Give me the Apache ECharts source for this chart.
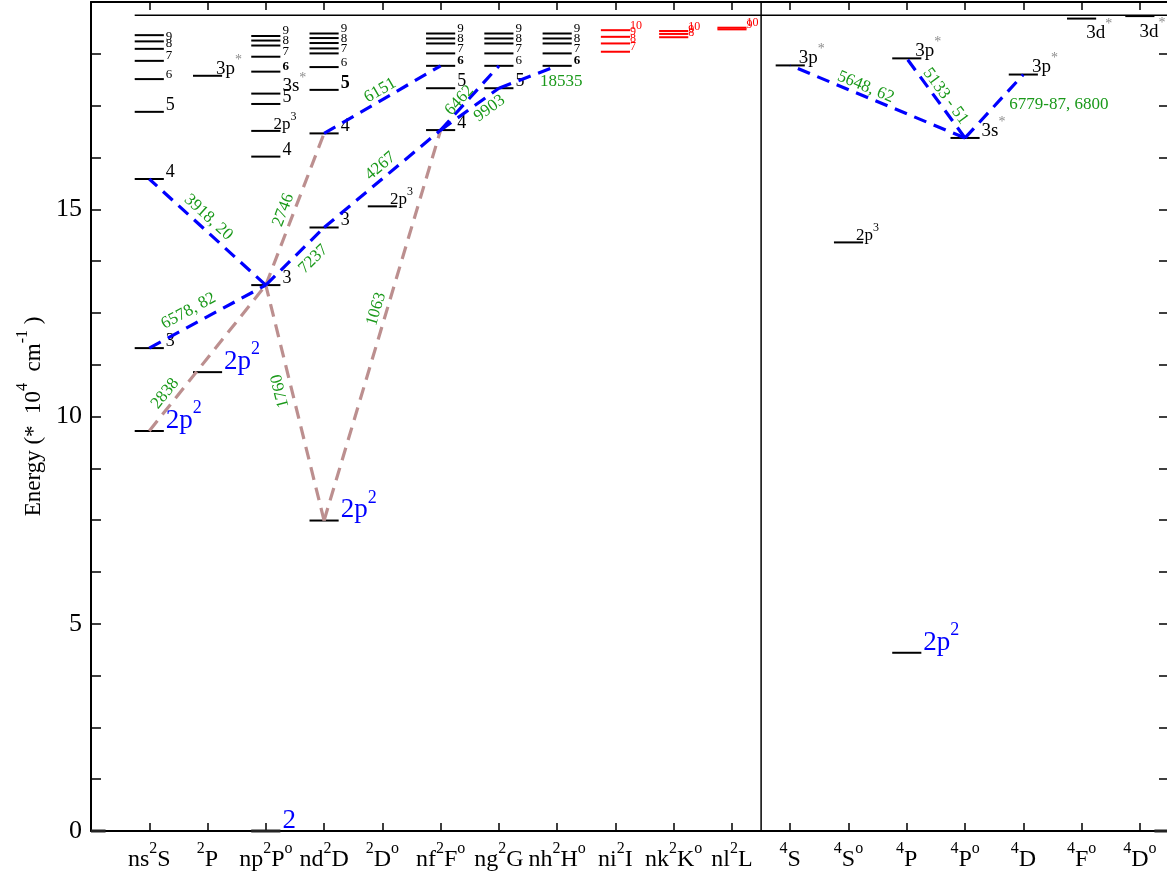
<!DOCTYPE html>
<html>
<head>
<meta charset="utf-8">
<script src="https://cdn.jsdelivr.net/npm/echarts@6/dist/echarts.min.js"></script>
<style>html,body{margin:0;padding:0;background:#fff}#chart{width:1167px;height:875px}</style>
</head>
<body>
<div id="chart"></div>
<script>
// ---------------- DATA ----------------
// column (term) labels, '^' marks a superscript character
const columnLabels = ['ns^2S','^2P','np^2P^o','nd^2D','^2D^o','nf^2F^o','ng^2G','nh^2H^o','ni^2I','nk^2K^o','nl^2L',
                      '^4S','^4S^o','^4P','^4P^o','^4D','^4F^o','^4D^o'];
const doubletColumnCount = 11;           // doublet terms, then quartets
const ionizationLimit = 19.68;           // 10^4 cm^-1
const energyMax = 20;

// levels: [column, energy (10^4 cm^-1), label]
const rydbergLevels = [
  [1,19.20,''],[1,19.05,'9'],[1,18.87,'8'],[1,18.58,'7'],[1,18.14,'6'],[1,17.35,'5'],[1,15.73,'4'],[1,11.65,'3'],
  [3,19.18,'9'],[3,19.07,''],[3,18.95,'8'],[3,18.68,'7'],[3,18.32,'6'],[3,17.54,'5'],[3,16.27,'4'],[3,13.17,'3'],
  [4,19.24,'9'],[4,19.13,''],[4,19.01,'8'],[4,18.88,''],[4,18.76,'7'],[4,18.43,'6'],[4,17.88,'5'],[4,16.83,'4'],[4,14.56,'3'],
  [6,19.24,'9'],[6,19.12,''],[6,19.00,'8'],[6,18.76,'7'],[6,18.46,'6'],[6,17.92,'5'],[6,16.91,'4'],
  [7,19.24,'9'],[7,19.12,''],[7,19.00,'8'],[7,18.76,'7'],[7,18.46,'6'],[7,17.92,'5'],
  [8,19.24,'9'],[8,19.12,''],[8,19.00,'8'],[8,18.76,'7'],[8,18.46,'6']
];
const highLLevels = [
  [9,19.32,'10'],[9,19.16,'9'],[9,19.00,'8'],[9,18.80,'7'],
  [10,19.30,'10'],[10,19.23,'9'],[10,19.15,'8'],
  [11,19.38,'10'],[11,19.34,'9']
];
const valenceLevels = [
  [1,9.65,'2p^2'],[2,11.07,'2p^2'],[4,7.49,'2p^2'],[14,4.30,'2p^2'],
  [3,16.89,'2p^3'],[5,15.07,'2p^3'],[13,14.20,'2p^3']
];
const coreExcitedLevels = [
  [2,18.22,'3p^*'],[3,17.79,'3s^*'],[12,18.47,'3p^*'],[14,18.64,'3p^*'],
  [15,16.72,'3s^*'],[16,18.25,'3p^*'],[17,19.60,'3d^*'],[18,19.66,'3d^*']
];
const groundLevels = [[3,0,'2'],[0,0,''],[18.5,0,'']];

// transitions: [from column, from energy, to column, to energy, wavelength (Å)]
const allowedTransitions = [
  [3,13.17,1,15.73,'3918, 20'],
  [1,11.65,3,13.17,'6578, 82'],
  [3,13.17,4,14.56,'7237'],
  [4,14.56,6,16.91,'4267'],
  [4,16.83,6,18.46,'6151'],
  [6,16.91,7,18.46,'6462'],
  [6,16.91,7,17.92,'9903'],
  [7,17.92,8,18.46,'18535'],
  [15,16.72,12,18.47,'5648, 62'],
  [15,16.72,14,18.64,'5133 - 51'],
  [15,16.72,16,18.25,'6779-87, 6800']
];
const otherTransitions = [
  [1,9.65,3,13.17,'2838'],
  [4,7.49,3,13.17,'1760'],
  [3,13.17,4,16.83,'2746'],
  [4,7.49,6,16.91,'1063']
];

// ---------------- LAYOUT / STYLE ----------------
const SERIF = "'Liberation Serif','DejaVu Serif','Times New Roman',serif";
const HALF = 0.25, X_MAX = 18.5;
const BLUE = '#0000ff', BROWN = '#bc8f8f', GREEN = '#1a991a', RED = '#ff0000', GRAY = '#8c8c8c';
const boldLabels = ['3:6','4:5','6:6','8:6'];
const labelNudge = {'17:3d^*':[-10,24], '18:3d^*':[-15,25]};
// label placement along transition: fraction t from first level, perpendicular offset px
const transitionLabelLayout = {
  '3918, 20':{t:0.559,perp:11.5}, '6578, 82':{t:0.394,perp:14}, '7237':{t:0.635,perp:-15},
  '4267':{t:0.544,perp:11}, '6151':{t:0.52,perp:9}, '6462':{t:0.40,perp:6}, '9903':{t:0.73,perp:-11},
  '18535':{flat:true,t:1,dx:4,dy:16}, '5648, 62':{t:0.588,perp:9}, '5133 - 51':{t:0.459,perp:9},
  '6779-87, 6800':{flat:true,t:1,dx:35.5,dy:29.5},
  '2838':{t:0.21,perp:11}, '1760':{t:0.562,perp:11.5}, '2746':{t:0.47,perp:10.5}, '1063':{t:0.534,perp:10.5}
};

function toRich(s) {
  let out = '', buf = '';
  for (let i = 0; i < s.length; i++) {
    if (s[i] === '^') {
      if (buf) { out += '{b|' + buf + '}'; buf = ''; }
      let sup;
      if (s[i+1] === '{') { const j = s.indexOf('}', i+2); sup = s.slice(i+2, j); i = j; }
      else { sup = s[i+1]; i++; }
      out += '{s|' + sup + '}';
    } else buf += s[i];
  }
  if (buf) out += '{b|' + buf + '}';
  return out;
}
function makeRich(F, S, color, supColor, weight) {
  const D = 0.45 * F;
  const P = Math.max(0, D + F/2 - S/2);
  return {
    b: {fontSize:F, fontFamily:SERIF, color:color, fill:color, fontWeight:weight||'normal', lineHeight:F, verticalAlign:'bottom'},
    s: {fontSize:S, fontFamily:SERIF, color:supColor, fill:supColor, verticalAlign:'top', padding:[0,0,P,0]}
  };
}
function labelSpec(group, col, lab) {
  let F, S = 0, color = '#000', supColor = null, weight = 'normal', dx = 2;
  if (group === 'rydberg') { const n = +lab; F = n <= 5 ? 18 : 13; if (boldLabels.includes(col+':'+lab)) weight = 'bold'; }
  else if (group === 'highL') { F = 12; color = RED; dx = 0; }
  else if (group === 'valence') { if (lab.indexOf('2p^2') === 0) { F = 27; S = 18; color = BLUE; } else { F = 17; S = 12; dx = -7; } }
  else if (group === 'core') { F = 19; S = 14; supColor = GRAY; if (lab.indexOf('3p') === 0) dx = -6; }
  else { F = 27; color = BLUE; }
  let dy = 0.12 * F;
  const nd = labelNudge[col + ':' + lab];
  if (nd) { dx = nd[0]; dy = nd[1]; }
  return {rich: makeRich(F, S || F*0.65, color, supColor || color, weight), dx, dy};
}

const groups = [
  ['rydberg', rydbergLevels, '#000'], ['highL', highLLevels, RED], ['valence', valenceLevels, '#000'],
  ['core', coreExcitedLevels, '#000'], ['ground', groundLevels, '#222']
];
const allLevels = [];
groups.forEach(([g, arr, stroke]) => arr.forEach(l => allLevels.push({group:g, col:l[0], E:l[1], label:l[2], stroke})));

function renderLevel(params, api) {
  const L = allLevels[params.dataIndex];
  const a = api.coord([Math.max(L.col - HALF, 0), L.E]);
  const b = api.coord([Math.min(L.col + HALF, X_MAX), L.E]);
  const children = [{type:'line', shape:{x1:a[0], y1:a[1], x2:b[0], y2:b[1]},
    style:{stroke:L.stroke, lineWidth: L.group === 'ground' ? 3 : 2}}];
  if (L.label) {
    const sp = labelSpec(L.group, L.col, L.label);
    children.push({type:'text', x:b[0] + sp.dx, y:b[1] + sp.dy,
      style:{text:toRich(L.label), rich:sp.rich, align:'left', verticalAlign:'bottom'}});
  }
  return {type:'group', children};
}
function transitionRenderer(list, color) {
  return function(params, api) {
    const T = list[params.dataIndex];
    const p = api.coord([T[0], T[1]]), q = api.coord([T[2], T[3]]);
    const lay = transitionLabelLayout[T[4]];
    const px = p[0] + lay.t * (q[0] - p[0]), py = p[1] + lay.t * (q[1] - p[1]);
    let rot = 0, cx, cy;
    if (lay.flat) { cx = px + lay.dx; cy = py + lay.dy; }
    else {
      let l = p, r = q; if (q[0] < p[0]) { l = q; r = p; }
      rot = Math.atan2(l[1] - r[1], r[0] - l[0]);
      if (rot < -Math.PI/3) rot += Math.PI;
      cx = px - lay.perp * Math.sin(rot); cy = py - lay.perp * Math.cos(rot);
    }
    return {type:'group', children:[
      {type:'line', shape:{x1:p[0], y1:p[1], x2:q[0], y2:q[1]}, style:{stroke:color, lineWidth:3.2, lineDash:[13,8]}},
      {type:'text', x:cx, y:cy, rotation:rot, z2:10,
        style:{text:T[4], fill:GREEN, fontSize:17, fontFamily:SERIF, align:'center', verticalAlign:'middle'}}
    ]};
  };
}
const referenceLines = [
  [1 - HALF, ionizationLimit, X_MAX, ionizationLimit],
  [doubletColumnCount + 0.5, 0, doubletColumnCount + 0.5, energyMax]
];

const axisLineStyle = {color:'#000', width:2};
const tickStyle = {color:'#000', width:1.5};
const xRich = {
  b:{fontSize:24, fontFamily:SERIF, color:'#000', lineHeight:24, verticalAlign:'bottom'},
  s:{fontSize:16, fontFamily:SERIF, color:'#000', verticalAlign:'top', padding:[0,0,0.45*24+12-8,0]}
};
const nameRich = {
  b:{fontSize:23, fontFamily:SERIF, color:'#000', lineHeight:23, verticalAlign:'bottom'},
  s:{fontSize:16, fontFamily:SERIF, color:'#000', verticalAlign:'top', padding:[0,0,0.45*23+11.5-8,0]}
};
function xLabel(v) {
  const i = Math.round(v);
  if (Math.abs(v - i) > 1e-6 || i < 1 || i > columnLabels.length) return '';
  return toRich(columnLabels[i-1]);
}
const xBase = {type:'value', min:0, max:X_MAX, interval:1, splitLine:{show:false},
  axisLine:{onZero:false, lineStyle:axisLineStyle}, axisTick:{inside:true, length:8, lineStyle:tickStyle}};
const yBase = {type:'value', min:0, max:energyMax, interval:5, splitLine:{show:false},
  axisLine:{onZero:false, lineStyle:axisLineStyle}, axisTick:{inside:true, length:10, lineStyle:tickStyle},
  minorTick:{show:true, splitNumber:4, length:10, lineStyle:tickStyle}};

const option = {
  animation:false,
  backgroundColor:'#fff',
  grid:{left:91, top:2, width:1078, height:829, containLabel:false, outerBoundsMode:'none'},
  xAxis:[
    Object.assign({}, xBase, {position:'bottom', axisLabel:{formatter:xLabel, rich:xRich, margin:10}}),
    Object.assign({}, xBase, {position:'top', axisLabel:{show:false}})
  ],
  yAxis:[
    Object.assign({}, yBase, {position:'left',
      axisLabel:{fontSize:26, fontFamily:SERIF, color:'#000', margin:9, formatter:v => v === energyMax ? '' : String(v)},
      name:toRich('Energy (*  10^4  cm^{-1} )'), nameLocation:'middle', nameRotate:90, nameGap:46,
      nameTextStyle:{rich:nameRich}}),
    Object.assign({}, yBase, {position:'right', axisLabel:{show:false}})
  ],
  series:[
    {type:'custom', xAxisIndex:0, yAxisIndex:0, data:referenceLines, encode:{x:[0,2], y:[1,3]}, silent:true,
      renderItem:(params, api) => {
        const r = referenceLines[params.dataIndex];
        const a = api.coord([r[0], r[1]]), b = api.coord([r[2], r[3]]);
        return {type:'line', shape:{x1:a[0], y1:a[1], x2:b[0], y2:b[1]}, style:{stroke:'#000', lineWidth:1.5}};
      }},
    {type:'custom', data:allLevels.map(l => [l.col, l.E]), encode:{x:0, y:1}, renderItem:renderLevel, silent:true, z:3},
    {type:'custom', data:otherTransitions.map(t => [t[0],t[1],t[2],t[3]]), encode:{x:[0,2], y:[1,3]},
      renderItem:transitionRenderer(otherTransitions, BROWN), silent:true, z:4},
    {type:'custom', data:allowedTransitions.map(t => [t[0],t[1],t[2],t[3]]), encode:{x:[0,2], y:[1,3]},
      renderItem:transitionRenderer(allowedTransitions, BLUE), silent:true, z:5}
  ]
};
const chart = echarts.init(document.getElementById('chart'), null, {renderer:'canvas'});
chart.setOption(option);
</script>
</body>
</html>
